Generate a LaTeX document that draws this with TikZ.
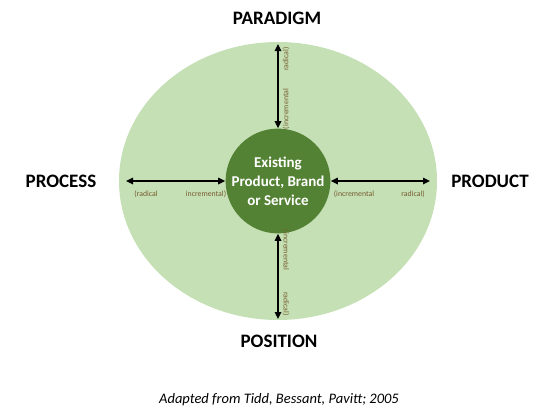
\documentclass[tikz,border=0pt]{standalone}
\usepackage{fontspec}
\setmainfont{Carlito}
\usetikzlibrary{shapes.geometric, arrows.meta}
\definecolor{outergreen}{RGB}{197,224,180}
\definecolor{innergreen}{RGB}{84,130,53}
\definecolor{tagbrown}{RGB}{118,92,48}

\begin{document}
\begin{tikzpicture}[x=1pt, y=-1pt, thick,
    span/.style={line width=1.6pt, {Triangle[length=7pt,width=6.5pt]}-{Triangle[length=7pt,width=6.5pt]}},
    axisname/.style={font=\bfseries\fontsize{19}{21}\selectfont},
    tag/.style={font=\fontsize{7.8}{8}\selectfont, text=tagbrown, inner sep=0pt}]
        \useasboundingbox (0,0) rectangle (550,418);

        % Define coordinates
        \coordinate (centre) at (278,181);
        \coordinate (top_end) at (278,44);
        \coordinate (bottom_end) at (278,319);
        \coordinate (left_end) at (126,181);
        \coordinate (right_end) at (430,181);

        % Draw the outer field (light oval)
        \node[fill=outergreen, ellipse, minimum width=318pt, minimum height=278pt] (field) at (centre) {};

        % Draw the core (dark circle with the existing offer)
        \node[fill=innergreen, circle, minimum size=102pt, inner sep=0pt, text=white, align=center,
              font=\bfseries\fontsize{15}{19}\selectfont] (core) at (centre) {Existing\\Product, Brand\\or Service};

        % Draw arrows from the core outwards
        \draw[span] (core.north) -- (top_end);
        \draw[span] (core.south) -- (bottom_end);
        \draw[span] (core.west) -- (left_end);
        \draw[span] (core.east) -- (right_end);

        % Axis names
        \node[axisname] (paradigm) at (277,18) {PARADIGM};
        \node[axisname] (position) at (279,341) {POSITION};
        \node[axisname] (process) at (61,181) {PROCESS};
        \node[axisname] (product) at (490,181) {PRODUCT};

        % Small tags along the arrows
        \node[tag, rotate=90] (top_radical) at (286,59) {radical)};
        \node[tag, rotate=90] (top_incr) at (286,109) {(incremental};
        \node[tag, rotate=-90] (bottom_incr) at (286,250) {(incremental};
        \node[tag, rotate=-90] (bottom_radical) at (286,304) {radical)};
        \node[tag] (left_radical) at (146,194) {(radical};
        \node[tag] (left_incr) at (206,194) {incremental)};
        \node[tag] (right_incr) at (354,194) {(incremental};
        \node[tag] (right_radical) at (413,194) {radical)};

        % Source
        \node[font=\itshape\fontsize{14.5}{16}\selectfont] (source) at (279,400) {Adapted from Tidd, Bessant, Pavitt; 2005};
      \end{tikzpicture}
\end{document}
